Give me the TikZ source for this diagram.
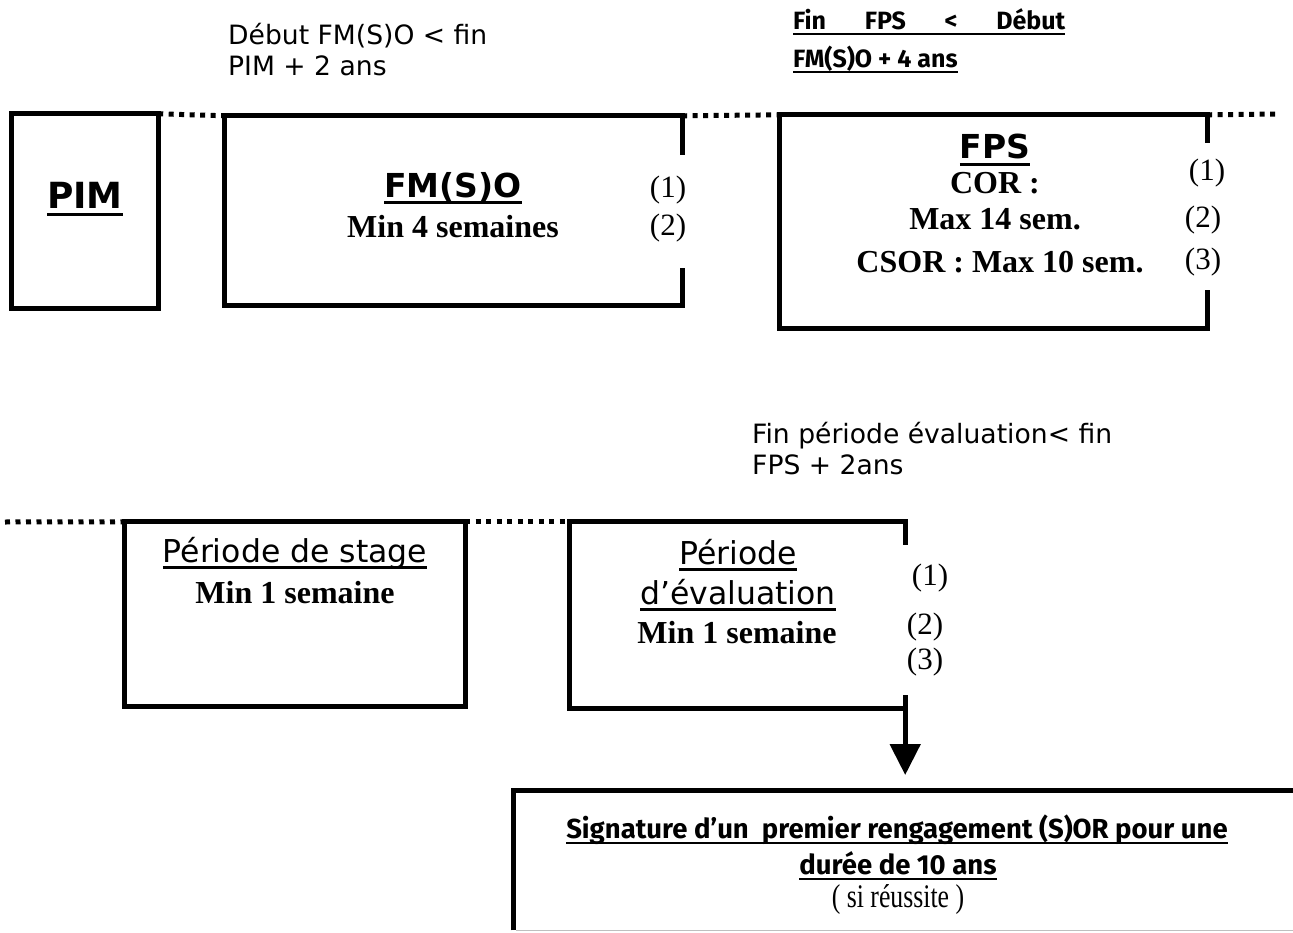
\documentclass[tikz,border=0pt]{standalone}
\usepackage{fontspec}
\setmainfont{Liberation Serif}
\newfontfamily\verd{DejaVu Sans}
\newfontfamily\hand{Fira Sans}
\newfontfamily\narrowserif[FakeStretch=0.78]{Liberation Serif}
\usetikzlibrary{arrows.meta,calc}
% underline drawn as a rule scaled with the current font
\newcommand\ulin[1]{\setbox0\hbox{#1}\leavevmode\rlap{\copy0}\rule[-0.2em]{\wd0}{0.08em}}
\begin{document}
\begin{tikzpicture}[x=1pt,y=-1pt,
  area/.style={rectangle, inner sep=0pt},
  frame/.style={line width=5pt, line join=miter},
  dots/.style={line width=5pt, dash pattern=on 5pt off 5.5pt},
  note/.style={inner sep=0pt, anchor=west, font=\verd\fontsize{26.6}{31}\selectfont},
  rule/.style={inner sep=0pt, anchor=west, font=\hand\bfseries\fontsize{25}{38}\selectfont},
  title/.style={inner sep=0pt, font=\verd\bfseries\fontsize{33}{38}\selectfont},
  plain/.style={inner sep=0pt, font=\verd\fontsize{31.5}{36}\selectfont},
  detail/.style={inner sep=0pt, font=\bfseries\fontsize{32}{36}\selectfont},
  num/.style={inner sep=0pt, font=\fontsize{31}{34}\selectfont},
  sig/.style={inner sep=0pt, font=\hand\bfseries\fontsize{27.5}{36}\selectfont}]
\useasboundingbox (0,0) rectangle (1293,933);

% ---------- upper row ----------
\node[area, minimum width=146, minimum height=194] (pim) at (85,211) {};
\node[area, minimum width=457, minimum height=189] (fm)  at (453.5,210.5) {};
\node[area, minimum width=427, minimum height=213] (fps) at (993.5,221.5) {};
\coordinate (topend) at (1280,114);

\draw[frame] (pim.north west) rectangle (pim.south east);
\draw[frame] ($(fm.north east)+(0,39)$) -- (fm.north east) -- (fm.north west)
  -- (fm.south west) -- (fm.south east) -- ($(fm.south east)+(0,-37)$);
\draw[frame] ($(fps.north east)+(0,28)$) -- (fps.north east) -- (fps.north west)
  -- (fps.south west) -- (fps.south east) -- ($(fps.south east)+(0,-38)$);

\draw[dots] (pim.north east) -- (fm.north west);
\draw[dots] (fm.north east) -- (fps.north west);
\draw[dots] (fps.north east) -- (topend);

\node[title, font=\verd\bfseries\fontsize{36}{40}\selectfont] at (85,199) {\ulin{PIM}};
\node[title] at (453,188) {\ulin{FM(S)O}};
\node[detail] at (453,227) {Min 4 semaines};
\node[num] at (668,190) {(1)};
\node[num] at (668,228) {(2)};

\node[title] at (995,150) {\ulin{FPS}};
\node[detail] at (995,183) {COR :};
\node[detail] at (995,219) {Max 14 sem.};
\node[detail] at (1000,262) {CSOR : Max 10 sem.};
\node[num] at (1207,173) {(1)};
\node[num] at (1203,220) {(2)};
\node[num] at (1203,262) {(3)};

\node[note, align=left] (n1) at (228,50) {Début FM(S)O < fin\\PIM + 2 ans};
\node[rule, align=left] (n2) at (793,41)
  {\ulin{\makebox[272pt][s]{Fin FPS < Début}}\\\ulin{FM(S)O + 4 ans}};

% ---------- lower row ----------
\node[area, minimum width=340, minimum height=184] (stage) at (295,614) {};
\node[area, minimum width=335, minimum height=186] (eval)  at (737.5,615) {};
\node[area, minimum width=800, minimum height=140, anchor=north west] (sign) at (513,790) {};
\coordinate (lowstart) at (5,522);

\draw[frame] (stage.north west) rectangle (stage.south east);
\draw[frame] ($(eval.north east)+(0,23)$) -- (eval.north east) -- (eval.north west)
  -- (eval.south west) -- (eval.south east);
\draw[frame] (sign.south west) -- (sign.north west) -- (sign.north east);
\draw[black!25, line width=1.5pt] ([xshift=3pt]sign.south west) -- (sign.south east);

\draw[dots] (lowstart) -- (stage.north west);
\draw[dots] (stage.north east) -- (eval.north west);

\draw[frame, -{Triangle[width=30pt,length=31pt]}, shorten >=15pt]
  ($(eval.south east)+(0,-13)$) -- (eval.south east |- sign.north);

\node[plain] at (295,553) {\ulin{Période de stage}};
\node[detail] at (295,593) {Min 1 semaine};

\node[plain] at (738,555) {\ulin{Période}};
\node[plain] at (738,595) {\ulin{d’évaluation}};
\node[detail] at (737,633) {Min 1 semaine};
\node[num] at (930,578) {(1)};
\node[num] at (925,627) {(2)};
\node[num] at (925,662) {(3)};

\node[note, align=left] (n3) at (752,449) {Fin période évaluation< fin\\FPS + 2ans};

\node[sig] at (897,830) {\ulin{Signature d’un\ \ premier rengagement (S)OR pour une}};
\node[sig] at (898,866) {\ulin{durée de 10 ans}};
\node[font=\narrowserif\fontsize{33}{36}\selectfont, inner sep=0pt] at (898,900) {( si réussite )};
\end{tikzpicture}
\end{document}
